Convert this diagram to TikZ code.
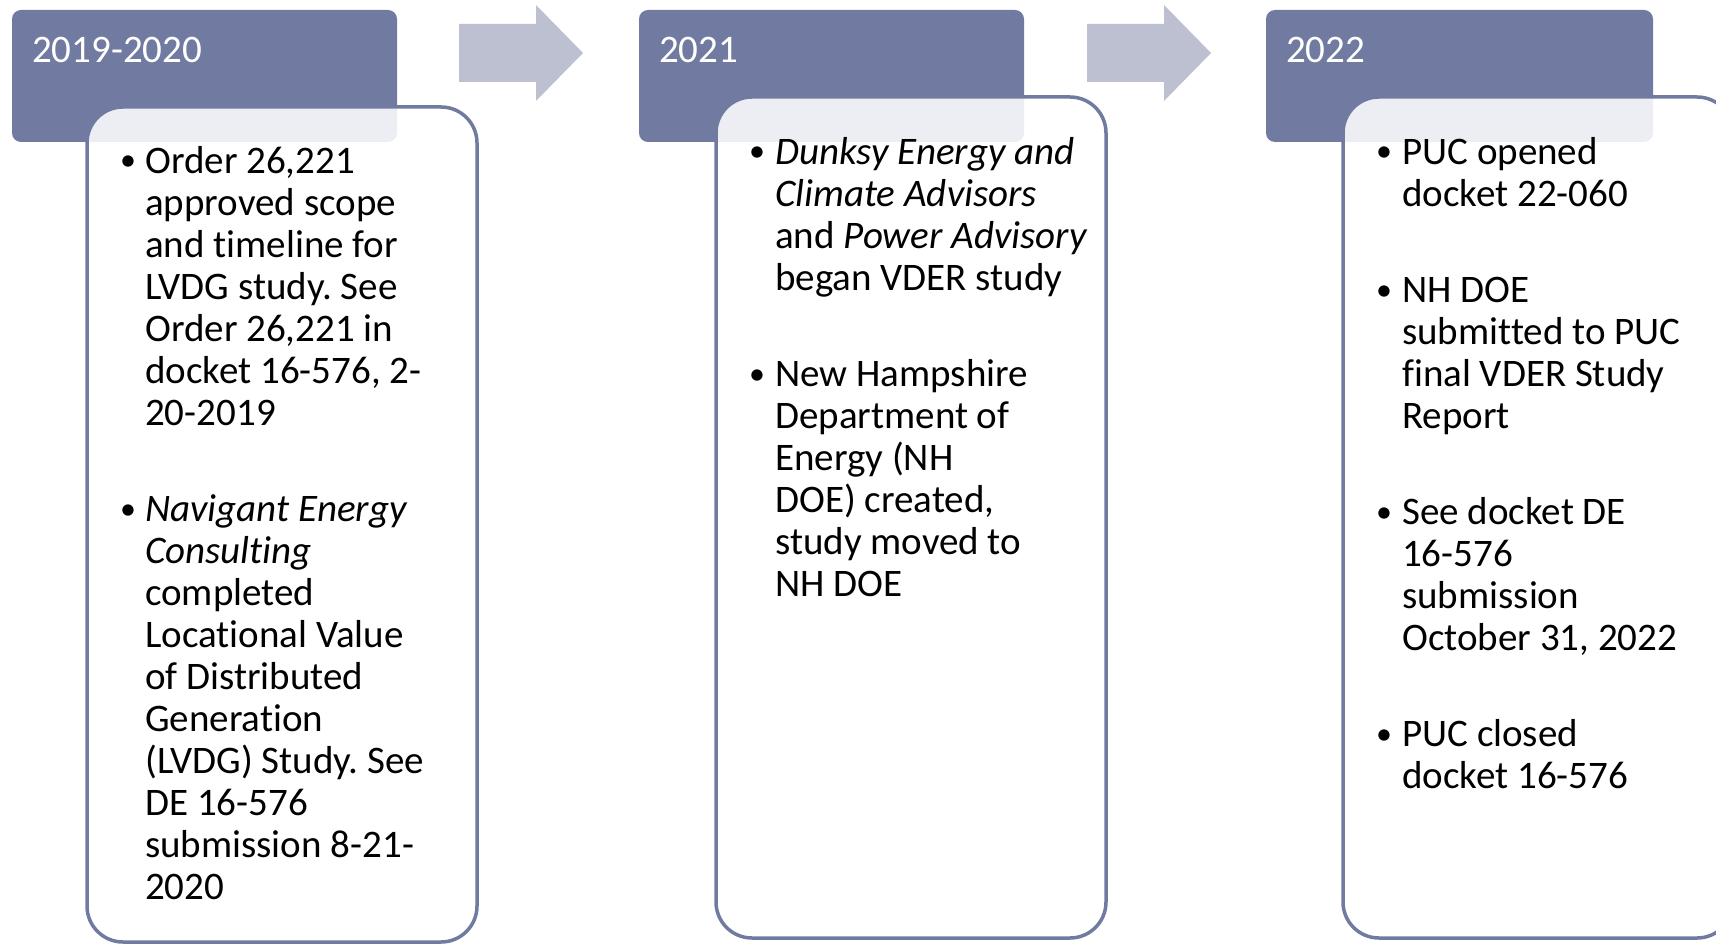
\documentclass[tikz,border=0pt]{standalone}
\usepackage{fontspec}
\setmainfont[Ligatures=NoCommon]{Carlito}
\definecolor{hdr}{RGB}{113,123,161}
\definecolor{arr}{RGB}{188,192,209}
\newcommand\fl{\rule{0pt}{34pt}}
\frenchspacing
\begin{document}
\begin{tikzpicture}[x=1pt,y=-1pt,
  hdrbox/.style={fill=hdr, rounded corners=9pt},
  card/.style={draw=hdr, line width=3.5pt, fill=white, fill opacity=0.88, rounded corners=36pt},
  yeartext/.style={text=white, font=\fontsize{39}{42}\selectfont, anchor=base west, inner sep=0pt},
  bodytext/.style={font=\fontsize{39}{42}\selectfont\frenchspacing, align=left, anchor=north west, inner sep=0pt},
  dot/.style={font=\fontsize{32}{42}\selectfont, anchor=base, inner sep=0pt},
  arrowshape/.style={fill=arr}]
\useasboundingbox (0,0) rectangle (1716,944);
\clip (0,0) rectangle (1716,944);

% headers
\fill[hdrbox] (12,10) rectangle (397,142);
\fill[hdrbox] (639,10) rectangle (1024,142);
\fill[hdrbox] (1266,10) rectangle (1653,142);

% arrows
\fill[arrowshape] (459,24) -- (536,24) -- (536,5) -- (583,53) -- (536,101) -- (536,82) -- (459,82) -- cycle;
\fill[arrowshape] (1087,24) -- (1164,24) -- (1164,5) -- (1211,53) -- (1164,101) -- (1164,82) -- (1087,82) -- cycle;

% cards
\path[card] (87,107) rectangle (477,942);
\path[card] (716,97) rectangle (1106,938);
\path[card] (1343,97) rectangle (1733,938);

% year labels
\node[yeartext] (y1) at (32,63) {2019-2020};
\node[yeartext] (y2) at (659,63) {2021};
\node[yeartext] (y3) at (1286,63) {2022};

% box 1
\node[dot] (d1a) at (128,171) {\textbullet};
\node[bodytext] (b1a) at (145,139) {\fl Order 26,221\\approved scope\\and timeline for\\LVDG study. See\\Order 26,221 in\\docket 16-576, 2-\\20-2019};
\node[dot] (d1b) at (128,519) {\textbullet};
\node[bodytext] (b1b) at (145,487) {\fl\textit{Navigant Energy}\\\textit{Consulting}\\completed\\Locational Value\\of Distributed\\Generation\\(LVDG) Study. See\\DE 16-576\\submission 8-21-\\2020};

% box 2
\node[dot] (d2a) at (757,162) {\textbullet};
\node[bodytext] (b2a) at (775,130) {\fl\textit{Dunksy Energy and}\\\textit{Climate Advisors}\\and \textit{Power Advisory}\\began VDER study};
\node[dot] (d2b) at (757,384) {\textbullet};
\node[bodytext] (b2b) at (775,352) {\fl New Hampshire\\Department of\\Energy (NH\\DOE) created,\\study moved to\\NH DOE};

% box 3
\node[dot] (d3a) at (1384,162) {\textbullet};
\node[bodytext] (b3a) at (1402,130) {\fl PUC opened\\docket 22-060};
\node[dot] (d3b) at (1384,300) {\textbullet};
\node[bodytext] (b3b) at (1402,268) {\fl NH DOE\\submitted to PUC\\final VDER Study\\Report};
\node[dot] (d3c) at (1384,522) {\textbullet};
\node[bodytext] (b3c) at (1402,490) {\fl See docket DE\\16-576\\submission\\October 31, 2022};
\node[dot] (d3d) at (1384,744) {\textbullet};
\node[bodytext] (b3d) at (1402,712) {\fl PUC closed\\docket 16-576};
\end{tikzpicture}
\end{document}
